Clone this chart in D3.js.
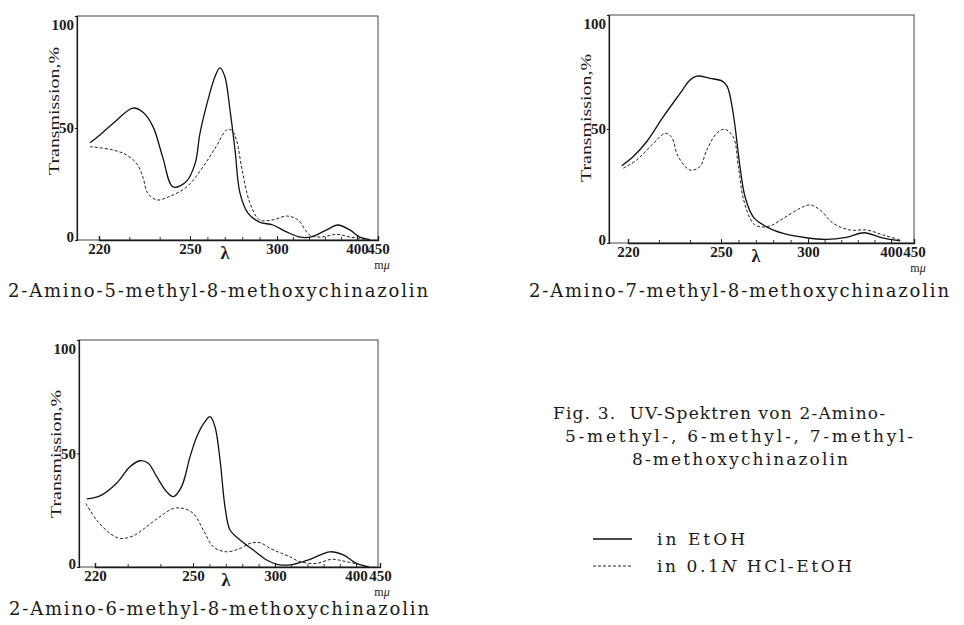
<!DOCTYPE html>
<html>
<head>
<meta charset="utf-8">
<script src="https://cdn.jsdelivr.net/npm/d3@7"></script>
<style>
  body { margin: 0; background: #fff; }
  svg { font-family: "Liberation Serif", "DejaVu Serif", serif; }
</style>
</head>
<body>
<svg id="chart" width="964" height="625"></svg>
<script>
// tick labels of the (non-linear) wavelength axis, mμ
const xTickLabels = [220, 250, 300, 400, 450];
const xMinorTicks = [230, 240, 260, 270, 280, 290, 320, 340, 360, 380];
const yTickLabels = [0, 50, 100];

// 2-Amino-5-methyl-8-methoxychinazolin
const m5EtohWl = [217, 220.3, 224.6, 231.2, 234.5, 237.8, 241, 244.4, 248.7, 252.9, 255.7, 259.8, 264.4, 267.2, 270, 273, 275.9, 278.7, 283.3, 290, 297.7, 312, 329, 343, 362, 376, 391, 407, 431];
const m5EtohT  = [43.4, 46.9, 52, 58.9, 57, 50.6, 37, 23.7, 26, 34, 47.5, 61, 73, 76.8, 73, 58, 40, 21, 12, 8, 6.7, 3.6, 1.3, 1.4, 4.5, 6.7, 4.5, 1.3, 0.2];
const m5HclWl  = [217, 224.6, 229, 232.5, 234.5, 236, 239, 243, 249, 257.5, 265, 271, 274, 276.7, 280, 284.5, 290, 297.7, 312, 326, 341, 354, 375, 391, 431];
const m5HclT   = [41.7, 40.2, 38, 34, 28, 21, 17.9, 19.3, 23.8, 32.7, 41.7, 49.1, 49, 44.6, 31, 16.4, 9, 9, 10.7, 9, 2.2, 1.3, 2.5, 1.3, 0.2];

// 2-Amino-7-methyl-8-methoxychinazolin
const m7EtohWl = [218, 221.7, 226, 231.4, 236.8, 240, 242.2, 246.5, 250.7, 253.6, 257, 260.9, 263.8, 268.5, 276.2, 285.8, 299, 322, 346, 368, 387, 420];
const m7EtohT  = [33.9, 37.9, 44.4, 55.4, 65.6, 71.5, 73.2, 72.2, 71, 68.6, 56.9, 33.5, 20.3, 11.5, 7.1, 4.2, 2.3, 1.6, 2.5, 4.5, 2.5, 0.9];
const m7HclWl  = [218.5, 222.8, 228.2, 232, 234, 236.2, 240, 243.2, 245.4, 248.6, 252, 257, 260, 263, 268.5, 272.4, 278.2, 285.8, 295.4, 302.4, 314.5, 330.5, 350.6, 370.7, 390.7, 424];
const m7HclT   = [32.8, 36.4, 43.7, 48.1, 46.6, 37.9, 32, 33.5, 40.8, 48.1, 49.9, 46.6, 33.5, 18.9, 8.6, 7.1, 7.5, 10.8, 15.2, 16.7, 14.5, 8.6, 5.7, 5.7, 3.5, 1.1];

// 2-Amino-6-methyl-8-methoxychinazolin
const m6EtohWl = [217.5, 221.5, 226.6, 230.7, 233.8, 236.3, 238.9, 241.9, 244, 246.5, 249.1, 252.3, 257.3, 260.4, 263.4, 266.5, 269.5, 272.6, 278.7, 286.8, 294.9, 306.2, 322.6, 343.2, 367.9, 384.3, 400.8, 427];
const m6EtohT  = [30, 31.3, 36.9, 44.2, 46.8, 45.7, 39.8, 33.2, 31, 35.4, 48.6, 57.4, 64, 66.2, 61.8, 47.1, 26.6, 16.3, 11.9, 7.5, 3.1, 0.9, 1.2, 3.4, 6.7, 5.3, 1.6, 0];
const m6HclWl  = [217.2, 220.5, 224.6, 227.7, 231.7, 235.8, 239.9, 244, 247, 250.2, 256.3, 262.4, 270.5, 278.7, 284.8, 290.9, 297, 308.3, 318.5, 330.9, 351.5, 370, 388.5, 427];
const m6HclT   = [28, 20.7, 14.8, 12.6, 13.7, 17.8, 22.2, 25.8, 25.8, 23.6, 16.3, 8.9, 6.7, 8.2, 10.4, 10.7, 8.2, 6, 4.5, 2.3, 1.6, 3.4, 2.3, 0.2];

const zip = (wl, t) => wl.map((w, i) => ({ wl: w, t: t[i] }));

// where each plot sits on the page (xStops = pixel of each tick label)
const panels = [
  { caption: "2-Amino-5-methyl-8-methoxychinazolin", left: 77, right: 378, top: 16, bottom: 240,
    xStops: [99, 190, 277, 357, 378], yLabelY: 111, capX: 8, capY: 297, capW: 420,
    etoh: zip(m5EtohWl, m5EtohT), hcl: zip(m5HclWl, m5HclT) },
  { caption: "2-Amino-7-methyl-8-methoxychinazolin", left: 609, right: 914, top: 15, bottom: 243,
    xStops: [628, 721, 808, 891, 914], yLabelY: 118, capX: 529, capY: 297, capW: 420,
    etoh: zip(m7EtohWl, m7EtohT), hcl: zip(m7HclWl, m7HclT) },
  { caption: "2-Amino-6-methyl-8-methoxychinazolin", left: 79, right: 378, top: 340, bottom: 567,
    xStops: [95, 193, 275, 356, 380], yLabelY: 454, capX: 9, capY: 615, capW: 420,
    etoh: zip(m6EtohWl, m6EtohT), hcl: zip(m6HclWl, m6HclT) }
];

const ink = "#1a1a1a";
const textFont = "'DejaVu Serif', 'Liberation Serif', serif";
const svg = d3.select("#chart");

panels.forEach(p => {
  const x = d3.scaleLinear().domain(xTickLabels).range(p.xStops);
  const y = d3.scaleLinear().domain([0, 100]).range([p.bottom, p.top]);
  const g = svg.append("g");

  // frame
  g.append("rect")
    .attr("x", p.left).attr("y", p.top)
    .attr("width", p.right - p.left).attr("height", p.bottom - p.top)
    .attr("fill", "none").attr("stroke", "#444").attr("stroke-width", 1);

  // x axis with labels
  const xAxis = g.append("g")
    .attr("transform", `translate(0,${p.bottom})`)
    .call(d3.axisBottom(x).tickValues(xTickLabels).tickSize(-4).tickPadding(3).tickFormat(d3.format("d")));
  xAxis.select(".domain").attr("stroke", ink).attr("stroke-width", 1.4);
  xAxis.selectAll(".tick line").attr("stroke", ink);
  xAxis.selectAll(".tick text")
    .attr("font-family", "Liberation Serif").attr("font-size", 15)
    .attr("font-weight", "bold").attr("fill", ink);

  // minor ticks
  g.append("g")
    .attr("transform", `translate(0,${p.bottom})`)
    .call(d3.axisBottom(x).tickValues(xMinorTicks).tickSize(-3).tickFormat(""))
    .call(a => a.select(".domain").remove())
    .selectAll(".tick line").attr("stroke", "#333");

  // y axis
  const yAxis = g.append("g")
    .attr("transform", `translate(${p.left},0)`)
    .call(d3.axisLeft(y).tickValues(yTickLabels).tickSize(2).tickPadding(1).tickFormat(d3.format("d")));
  yAxis.select(".domain").attr("stroke", ink).attr("stroke-width", 1.2);
  yAxis.selectAll(".tick line").attr("stroke", ink);
  yAxis.selectAll(".tick text")
    .attr("font-family", "Liberation Serif").attr("font-size", 15)
    .attr("font-weight", "bold").attr("fill", ink)
    .attr("dy", d => d === 100 ? "0.9em" : (d === 0 ? "0.1em" : "0.32em"));

  // axis titles
  g.append("text")
    .attr("transform", `translate(${p.left - 18},${p.yLabelY}) rotate(-90)`)
    .attr("text-anchor", "middle")
    .attr("font-size", 15).attr("fill", ink)
    .attr("textLength", 128).attr("lengthAdjust", "spacingAndGlyphs")
    .text("Transmission,%");

  g.append("text")
    .attr("x", x(270)).attr("y", p.bottom + 19)
    .attr("text-anchor", "middle")
    .attr("font-size", 18).attr("font-weight", "bold").attr("fill", ink)
    .text("λ");

  const mu = g.append("text")
    .attr("x", p.right + 4).attr("y", p.bottom + 29)
    .attr("text-anchor", "middle")
    .attr("font-size", 12).attr("fill", ink);
  mu.append("tspan").text("m");
  mu.append("tspan").attr("font-style", "italic").text("μ");

  // spectra
  const line = d3.line()
    .x(d => x(d.wl))
    .y(d => y(d.t))
    .curve(d3.curveCatmullRom.alpha(0.5));

  g.append("path")
    .datum(p.etoh)
    .attr("d", line)
    .attr("fill", "none").attr("stroke", "#111").attr("stroke-width", 1.3);

  g.append("path")
    .datum(p.hcl)
    .attr("d", line)
    .attr("fill", "none").attr("stroke", "#222").attr("stroke-width", 1)
    .attr("stroke-dasharray", "3,2");

  // caption
  svg.append("text")
    .attr("x", p.capX).attr("y", p.capY)
    .attr("font-family", textFont).attr("font-size", 18).attr("fill", ink)
    .attr("textLength", p.capW).attr("lengthAdjust", "spacing")
    .text(p.caption);
});

// figure legend on the right
const figLines = [
  { text: "Fig. 3.  UV-Spektren von 2-Amino-", x: 553, y: 419, w: 332 },
  { text: "5-methyl-, 6-methyl-, 7-methyl-", x: 565, y: 442, w: 348 },
  { text: "8-methoxychinazolin", x: 632, y: 465, w: 216 }
];
figLines.forEach(l => {
  svg.append("text")
    .attr("x", l.x).attr("y", l.y)
    .attr("font-family", textFont).attr("font-size", 17).attr("fill", ink)
    .attr("textLength", l.w).attr("lengthAdjust", "spacing")
    .attr("xml:space", "preserve")
    .text(l.text);
});

const legend = svg.append("g").attr("transform", "translate(593,539)");
legend.append("line")
  .attr("x1", 0).attr("x2", 39).attr("y1", 0).attr("y2", 0)
  .attr("stroke", "#111").attr("stroke-width", 1.3);
legend.append("text")
  .attr("x", 64).attr("y", 6)
  .attr("font-family", textFont).attr("font-size", 17).attr("fill", ink)
  .attr("textLength", 88).attr("lengthAdjust", "spacing")
  .text("in EtOH");

legend.append("line")
  .attr("x1", 0).attr("x2", 39).attr("y1", 27).attr("y2", 27)
  .attr("stroke", "#222").attr("stroke-width", 1).attr("stroke-dasharray", "3,2");
const hclText = legend.append("text")
  .attr("x", 64).attr("y", 33)
  .attr("font-family", textFont).attr("font-size", 17).attr("fill", ink)
  .attr("textLength", 195).attr("lengthAdjust", "spacing");
hclText.append("tspan").text("in 0.1");
hclText.append("tspan").attr("font-style", "italic").text("N");
hclText.append("tspan").text(" HCl-EtOH");
</script>
</body>
</html>
